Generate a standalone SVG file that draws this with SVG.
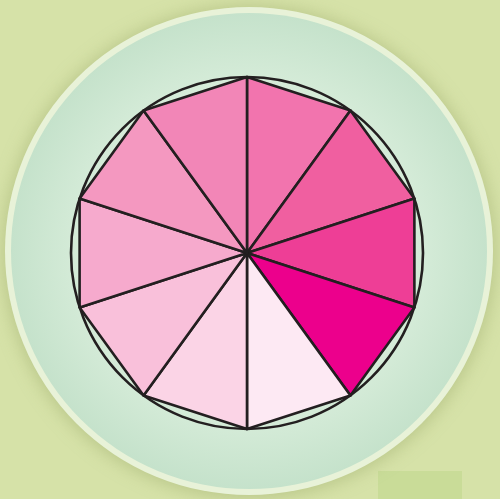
<svg xmlns="http://www.w3.org/2000/svg" width="500" height="499" viewBox="0 0 500 499">
  <defs>
    <radialGradient id="disc" cx="249" cy="251" r="238" gradientUnits="userSpaceOnUse">
      <stop offset="0" stop-color="#eef8ec"/>
      <stop offset="0.7" stop-color="#d6ecd9"/>
      <stop offset="1" stop-color="#c5e2cb"/>
    </radialGradient>
    <filter id="glow" x="-20%" y="-20%" width="140%" height="140%">
      <feGaussianBlur stdDeviation="9"/>
    </filter>
    <style>
      .seg { stroke: #231f20; stroke-width: 2.6; stroke-linejoin: round; }
      .ring { fill: none; stroke: #231f20; stroke-width: 2.6; }
    </style>
  </defs>
  <rect x="0" y="0" width="500" height="499" fill="#d6e2a8"/>
  <rect x="378" y="471" width="84" height="28" fill="#c9dc98"/>
  <circle cx="249" cy="252" r="246" fill="#aebc7e" opacity="0.75" filter="url(#glow)"/>
  <circle id="disc-border" cx="249" cy="251" r="244" fill="#e8f2d8"/>
  <circle id="disc-fill" cx="249" cy="251" r="238" fill="url(#disc)"/>
  <g id="decagon">
    <g id="t0"><polygon class="seg" fill="#f274ae" points="247,253 247,77 350.45,110.61"/></g>
    <g id="t1"><polygon class="seg" fill="#f05fa0" points="247,253 350.45,110.61 414.39,198.61"/></g>
    <g id="t2"><polygon class="seg" fill="#ee3e96" points="247,253 414.39,198.61 414.39,307.39"/></g>
    <g id="t3"><polygon class="seg" fill="#ec008c" points="247,253 414.39,307.39 350.45,395.39"/></g>
    <g id="t4"><polygon class="seg" fill="#fde9f3" points="247,253 350.45,395.39 247,429"/></g>
    <g id="t5"><polygon class="seg" fill="#fbd4e6" points="247,253 247,429 143.55,395.39"/></g>
    <g id="t6"><polygon class="seg" fill="#f9c0da" points="247,253 143.55,395.39 79.61,307.39"/></g>
    <g id="t7"><polygon class="seg" fill="#f6aacd" points="247,253 79.61,307.39 79.61,198.61"/></g>
    <g id="t8"><polygon class="seg" fill="#f498c0" points="247,253 79.61,198.61 143.55,110.61"/></g>
    <g id="t9"><polygon class="seg" fill="#f286b7" points="247,253 143.55,110.61 247,77"/></g>
  </g>
  <circle id="circumcircle" class="ring" cx="247" cy="253" r="176"/>
</svg>
